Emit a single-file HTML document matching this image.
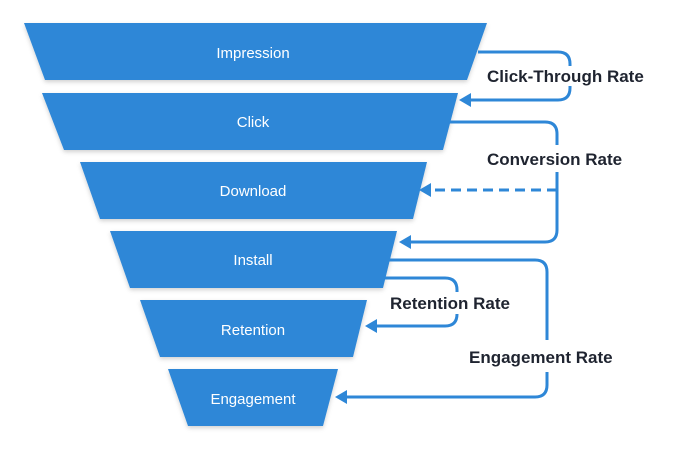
<!DOCTYPE html>
<html><head><style>body{margin:0;background:#fff}svg{display:block}</style></head><body>
<svg width="683" height="450" viewBox="0 0 683 450" xmlns="http://www.w3.org/2000/svg">
<defs><filter id="s" x="-5%" y="-10%" width="110%" height="130%"><feDropShadow dx="0" dy="2" stdDeviation="2" flood-opacity="0.18"/></filter></defs>
<g fill="#2e87d7" filter="url(#s)">
<polygon points="24,23 487,23 467,80 45,80"/>
<polygon points="42,93 458,93 443,150 64,150"/>
<polygon points="80,162 427,162 413,219 100,219"/>
<polygon points="110,231 397,231 383,288 130,288"/>
<polygon points="140,300 367,300 353,357 160,357"/>
<polygon points="168,369 338,369 323,426 188,426"/>
</g>
<g font-family="Liberation Sans, sans-serif" font-size="15" fill="#fff" text-anchor="middle">
<text x="253" y="58">Impression</text><text x="253" y="127">Click</text><text x="253" y="196">Download</text>
<text x="253" y="265">Install</text><text x="253" y="335">Retention</text><text x="253" y="404">Engagement</text>
</g>
<g fill="none" stroke="#2e87d7" stroke-width="3">
<path d="M478,52 H558 Q570,52 570,64 V66"/><path d="M570,86 V88 Q570,100 558,100 H468"/>
<path d="M450,122 H545 Q557,122 557,134 V145"/><path d="M557,172 V230 Q557,242 545,242 H408"/>
<path d="M557,190 H428" stroke-dasharray="10,6"/>
<path d="M387,260 H535 Q547,260 547,272 V340"/><path d="M547,372 V385 Q547,397 535,397 H344"/>
<path d="M384,278 H445 Q457,278 457,290 V292"/><path d="M457,314 Q457,326 445,326 H374"/>
</g>
<g fill="#2e87d7">
<polygon points="459,100 471,93 471,107"/><polygon points="399,242 411,235 411,249"/>
<polygon points="419,190 431,183 431,197"/><polygon points="335,397 347,390 347,404"/>
<polygon points="365,326 377,319 377,333"/>
</g>
<g font-family="Liberation Sans, sans-serif" font-size="17" font-weight="bold" fill="#1f2430">
<text x="487" y="82">Click-Through Rate</text><text x="487" y="165">Conversion Rate</text>
<text x="390" y="309">Retention Rate</text><text x="469" y="363">Engagement Rate</text>
</g>
</svg>
</body></html>
